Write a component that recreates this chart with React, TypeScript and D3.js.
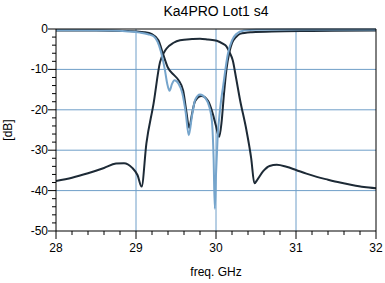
import React from "react";
import * as d3 from "d3";

const title = "Ka4PRO Lot1 s4";
const xTicks = [28, 29, 30, 31, 32];
const yTicks = [0, -10, -20, -30, -40, -50];

// transmission (dark)
const s21: [number, number][] = [
  [28.0, -37.6], [28.2, -36.8], [28.4, -35.7], [28.6, -34.4], [28.75, -33.3], [28.85, -33.2],
  [28.95, -34.3], [29.02, -36.2], [29.07, -39.0], [29.13, -28.3], [29.22, -18.4], [29.3, -8.2],
  [29.38, -4.9], [29.47, -3.4], [29.55, -2.8], [29.7, -2.5], [29.8, -2.4], [29.9, -2.6],
  [30.01, -2.9], [30.09, -3.7], [30.13, -4.3], [30.17, -5.8], [30.21, -7.8], [30.25, -12],
  [30.3, -17.5], [30.38, -25], [30.44, -32], [30.48, -38.2], [30.52, -37.2], [30.59, -35.2],
  [30.67, -33.9], [30.76, -33.6], [30.88, -34.1], [31.0, -34.9], [31.13, -35.8], [31.26, -36.6],
  [31.4, -37.3], [31.55, -38.0], [31.7, -38.6], [31.85, -39.1], [32.0, -39.4],
];

// reflection port 1 (dark)
const s11: [number, number][] = [
  [28.0, -0.4], [28.5, -0.4], [28.9, -0.5], [29.1, -0.8], [29.2, -1.3], [29.28, -2.8],
  [29.34, -6.3], [29.4, -9.6], [29.47, -11.3], [29.53, -12.6], [29.59, -15.3], [29.63, -20.5],
  [29.665, -24.5], [29.7, -21], [29.74, -17.8], [29.82, -16.6], [29.9, -17.8], [29.96, -21],
  [30.0, -24], [30.04, -26.7], [30.07, -23], [30.1, -16], [30.13, -10.1], [30.17, -5.5],
  [30.2, -3.5], [30.25, -2], [30.3, -1.2], [30.45, -0.8], [30.7, -0.6], [31.2, -0.5], [32.0, -0.4],
];

// reflection port 2 (light blue)
const s22: [number, number][] = [
  [28.0, -0.3], [28.7, -0.4], [28.9, -0.6], [29.05, -0.9], [29.15, -1.3], [29.22, -1.8],
  [29.27, -3.2], [29.31, -5.5], [29.36, -10], [29.39, -13.5], [29.42, -15.3], [29.45, -13.6],
  [29.48, -12.7], [29.53, -13.5], [29.58, -16], [29.62, -20.5], [29.66, -26.3], [29.7, -21.5],
  [29.74, -17.5], [29.8, -16.2], [29.87, -17.2], [29.92, -19.5], [29.95, -23], [29.97, -32],
  [29.985, -44.5], [30.0, -36], [30.02, -27], [30.05, -20], [30.09, -14], [30.15, -6],
  [30.2, -2.8], [30.25, -1.3], [30.35, -0.4], [30.5, -0.2], [31.0, -0.15], [32.0, -0.1],
];

const W = 385, H = 283;
const L = 56, R = 376, T = 29, B = 231;
const grid = "#6f9ec8";
const dark = "#1d2a36";
const light = "#76a5cc";
const font = "Liberation Sans, Arial, sans-serif";

export default function App() {
  const x = d3.scaleLinear().domain([28, 32]).range([L, R]);
  const y = d3.scaleLinear().domain([-50, 0]).range([B, T]);
  const line = d3.line<[number, number]>().x(d => x(d[0])).y(d => y(d[1])).curve(d3.curveMonotoneX);
  const xMinor = d3.range(28, 32.001, 0.2);
  const yMinor = d3.range(-50, 0.001, 2);
  return (
    <svg width={W} height={H} style={{ position: "absolute", left: 0, top: 0, background: "#fff" }}>
      <text x={(L + R) / 2} y={16} textAnchor="middle" fontFamily={font} fontSize={14}>{title}</text>
      {xTicks.slice(1, -1).map(t => (
        <line key={"gx" + t} x1={x(t)} x2={x(t)} y1={T} y2={B} stroke={grid} strokeWidth={1} />
      ))}
      {yTicks.slice(1, -1).map(t => (
        <line key={"gy" + t} x1={L} x2={R} y1={y(t)} y2={y(t)} stroke={grid} strokeWidth={1} />
      ))}
      <path d={line(s21) || ""} fill="none" stroke={dark} strokeWidth={2} />
      <path d={line(s11) || ""} fill="none" stroke={dark} strokeWidth={2} />
      <path d={line(s22) || ""} fill="none" stroke={light} strokeWidth={2} />
      <line x1={L} x2={R} y1={T} y2={T} stroke="#000" />
      <line x1={R} x2={R} y1={T} y2={B} stroke="#000" />
      <line x1={L} x2={L} y1={T} y2={B} stroke="#000" />
      <line x1={L} x2={R} y1={B} y2={B} stroke="#000" />
      {xMinor.map((t, i) => (
        <line key={"xm" + i} x1={x(t)} x2={x(t)} y1={B} y2={B + (i % 5 === 0 ? 8 : 4)} stroke="#000" />
      ))}
      {yMinor.map((t, i) => (
        <line key={"ym" + i} x1={L - (i % 5 === 0 ? 8 : 4)} x2={L} y1={y(t)} y2={y(t)} stroke="#000" />
      ))}
      {xTicks.map(t => (
        <text key={"xl" + t} x={x(t)} y={252} textAnchor="middle" fontFamily={font} fontSize={12}>{t}</text>
      ))}
      {yTicks.map(t => (
        <text key={"yl" + t} x={L - 8} y={y(t) + 4} textAnchor="end" fontFamily={font} fontSize={12}>{t}</text>
      ))}
      <text x={(L + R) / 2} y={276} textAnchor="middle" fontFamily={font} fontSize={12}>freq. GHz</text>
      <text transform={`translate(12,${(T + B) / 2}) rotate(-90)`} textAnchor="middle" fontFamily={font} fontSize={12}>[dB]</text>
    </svg>
  );
}
